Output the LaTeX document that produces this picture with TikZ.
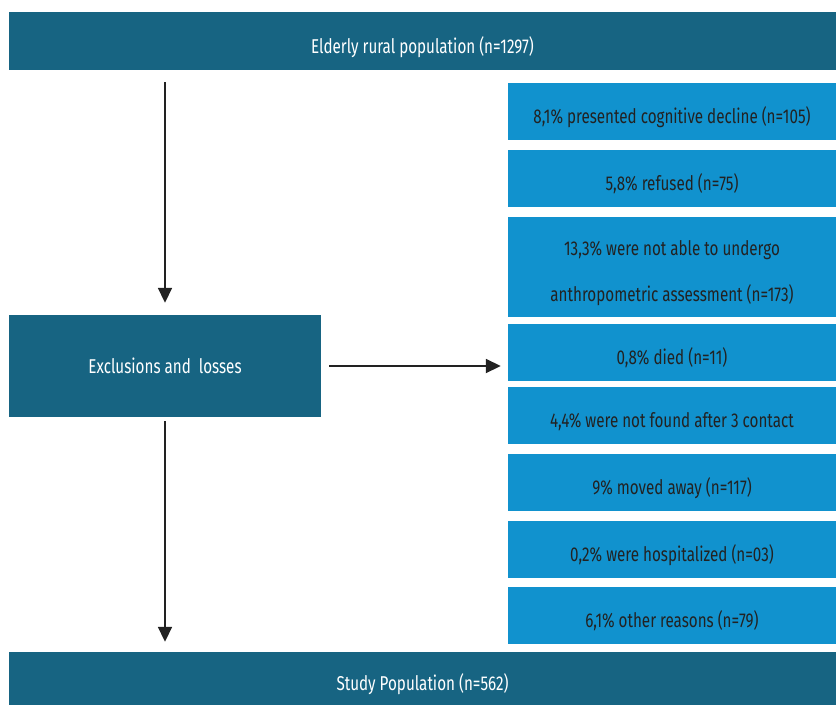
\documentclass[tikz,border=0pt]{standalone}
\usepackage{fontspec}
\setmainfont{Fira Sans}[FakeStretch=0.76]
\usetikzlibrary{arrows.meta}

\definecolor{darkteal}{HTML}{176482}
\definecolor{lightblue}{HTML}{1192CE}
\definecolor{darktext}{HTML}{222222}

\begin{document}
\begin{tikzpicture}[x=1pt, y=-1pt,
    every node/.style={font=\fontsize{20}{24}\selectfont, inner sep=0pt, text height=24pt, text depth=0pt},
    darkbox/.style={fill=darkteal, text=white},
    lightbox/.style={fill=lightblue, text=darktext, minimum width=328pt, minimum height=57pt},
    arrow/.style={-{Triangle[length=15pt, width=14pt]}, line width=1.8pt, draw=darktext}]
    \useasboundingbox (0,0) rectangle (836,705);
    % main column
    \node[darkbox, minimum width=827pt, minimum height=58pt] (elderly) at (422.5,41) {Elderly rural population (n=1297)};
    \node[darkbox, minimum width=312pt, minimum height=102pt, text height=14pt] (excl) at (165,366) {Exclusions and\ \ losses};
    \node[darkbox, minimum width=827pt, minimum height=53pt] (study) at (422.5,678.5) {Study Population (n=562)};
    % reasons
    \node[lightbox] (cogn) at (672,111) {8,1\% presented cognitive decline (n=105)};
    \node[lightbox] (refused) at (672,178) {5,8\% refused (n=75)};
    \node[lightbox, minimum height=100pt, align=center, text height=69pt] (anthro) at (672,266.5) {13,3\% were not able to undergo\\[22pt]anthropometric assessment (n=173)};
    \node[lightbox] (died) at (672,352) {0,8\% died (n=11)};
    \node[lightbox] (notfound) at (672,415) {4,4\% were not found after 3 contact};
    \node[lightbox] (moved) at (672,482) {9\% moved away (n=117)};
    \node[lightbox] (hosp) at (672,549) {0,2\% were hospitalized (n=03)};
    \node[lightbox] (other) at (672,615) {6,1\% other reasons (n=79)};
    % arrows
    \draw[arrow, shorten <=12pt, shorten >=12pt] (excl.north |- elderly.south) -- (excl.north);
    \draw[arrow, shorten <=8pt, shorten >=7pt] (excl.east) -- (excl.east -| died.west);
    \draw[arrow, shorten <=4pt, shorten >=10pt] (excl.south) -- (excl.south |- study.north);
\end{tikzpicture}
\end{document}
